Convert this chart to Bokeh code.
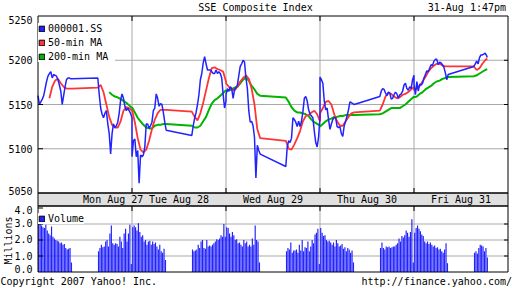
from math import pi
from bokeh.plotting import figure
from bokeh.models import Range1d, Legend, LegendItem
from bokeh.core.properties import value
from bokeh.embed import file_html
from bokeh.resources import INLINE

# ---------------- texts ----------------
TITLE = "SSE Composite Index"
STAMP = "31-Aug 1:47pm"
NAMES = ["000001.SS", "50-min MA", "200-min MA"]
VOL_NAME = "Volume"
DAYS = ["Mon Aug 27", "Tue Aug 28", "Wed Aug 29", "Thu Aug 30", "Fri Aug 31"]
PRICE_TICKS = [5050, 5100, 5150, 5200, 5250]
VOL_TICKS = [0, 1, 2, 3, 4]
VOL_TICK_LABELS = ["0.0", "1.0", "2.0", "3.0", "4.0"]
LEFT_NOTE = "Copyright 2007 Yahoo! Inc."
RIGHT_NOTE = "http://finance.yahoo.com/"
VOL_UNIT = "Millions"

# ---------------- price, 5-minute samples (minutes after 9:30 / after 13:00) ----------------
mon_am = [5160, 5150, 5153, 5156, 5160, 5168, 5176, 5182, 5185, 5187, 5180, 5184, 5183, 5182, 5178,
          5172, 5165, 5150, 5160, 5170, 5178, 5180, 5180, 5179, 5179]
mon_pm = [5180, 5161, 5146, 5139, 5135, 5140, 5143, 5128, 5117, 5094, 5117, 5128, 5124, 5126, 5130,
          5140, 5155, 5162, 5157, 5148, 5143, 5146, 5143, 5140, 5135]
tue_am = [5091, 5109, 5111, 5091, 5098, 5061, 5093, 5091, 5093, 5102, 5128, 5128, 5123, 5126, 5130,
          5143, 5146, 5162, 5157, 5148, 5151, 5150, 5141, 5130, 5121]
tue_pm = [5115, 5126, 5135, 5141, 5150, 5161, 5178, 5185, 5197, 5204, 5196, 5189, 5189, 5189, 5187,
          5185, 5185, 5189, 5185, 5187, 5185, 5180, 5161, 5146, 5154]
wed_am = [5161, 5168, 5165, 5170, 5168, 5157, 5167, 5169, 5172, 5183, 5193, 5196, 5200, 5198, 5180,
          5168, 5143, 5130, 5131, 5126, 5113, 5067, 5104, 5098, 5094]
wed_pm = [5080, 5102, 5109, 5107, 5112, 5135, 5133, 5130, 5125, 5131, 5125, 5131, 5142, 5157, 5159,
          5154, 5144, 5139, 5137, 5135, 5120, 5107, 5102, 5113, 5135]
thu_am = [5181, 5178, 5174, 5154, 5144, 5146, 5133, 5122, 5128, 5133, 5135, 5135, 5125, 5124, 5125,
          5117, 5114, 5126, 5131, 5137, 5144, 5153, 5152, 5151, 5150]
thu_pm = [5159, 5165, 5168, 5167, 5163, 5160, 5164, 5163, 5156, 5157, 5161, 5164, 5162, 5157, 5161,
          5162, 5165, 5172, 5174, 5168, 5166, 5170, 5168, 5178, 5183]
fri_am = [5173, 5161, 5176, 5165, 5173, 5172, 5174, 5180, 5184, 5188, 5187, 5191, 5195, 5194, 5199,
          5201, 5201, 5195, 5198, 5197, 5195, 5192, 5186, 5178, 5184]
fri_pm = [5193, 5196, 5199, 5196, 5203, 5206, 5206, 5207, 5208, 5205, 5203]

# ---------------- 50-min MA, 10-minute samples ----------------
mon_ma50_am = [5157, 5170, 5177, 5179, 5174, 5170, 5168, 5168, 5168]          # from 10:10
mon_ma50_pm = [5169, 5172, 5164, 5150, 5136, 5127, 5124, 5124, 5131, 5143, 5147, 5146, 5143]
tue_ma50_am = [5144, 5130, 5112, 5099, 5096, 5099, 5109, 5122, 5133, 5140, 5144, 5144, 5144]
tue_ma50_pm = [5142, 5136, 5132, 5140, 5152, 5166, 5180, 5191, 5192, 5190, 5189, 5187, 5176]
wed_ma50_am = [5174, 5170, 5167, 5166, 5170, 5176, 5180, 5183, 5179, 5168, 5150, 5122, 5112]
wed_ma50_pm = [5109, 5100, 5099, 5105, 5112, 5120, 5131, 5137, 5138, 5141, 5143, 5139, 5131]
thu_ma50_am = [5140, 5146, 5153, 5154, 5150, 5139, 5131, 5126, 5126, 5131, 5136, 5140, 5141]
thu_ma50_pm = [5143, 5150, 5159, 5163, 5162, 5159, 5157, 5158, 5161, 5162, 5164, 5167, 5170]
fri_ma50_am = [5166, 5168, 5171, 5176, 5181, 5187, 5191, 5194, 5196, 5196, 5194, 5193, 5193]
fri_ma50_pm = [5193, 5189, 5191, 5196, 5200, 5202]

# ---------------- 200-min MA, 10-minute samples ----------------
mon_ma200_pm = [5164, 5161, 5159, 5158, 5156, 5154, 5152, 5149, 5146]          # from 13:40
tue_ma200_am = [5147, 5141, 5135, 5131, 5127, 5124, 5123, 5123, 5126, 5127, 5127, 5128, 5128]
tue_ma200_pm = [5126, 5124, 5124, 5126, 5131, 5136, 5144, 5151, 5155, 5157, 5160, 5163, 5166]
wed_ma200_am = [5165, 5166, 5167, 5169, 5170, 5174, 5178, 5180, 5177, 5171, 5167, 5162, 5160]
wed_ma200_pm = [5158, 5153, 5147, 5143, 5141, 5141, 5140, 5139, 5137, 5133, 5130, 5128, 5126]
thu_ma200_am = [5125, 5128, 5131, 5133, 5134, 5136, 5136, 5137, 5137, 5138, 5138, 5138, 5138]
thu_ma200_pm = [5139, 5140, 5142, 5144, 5146, 5146, 5146, 5146, 5148, 5150, 5153, 5156, 5159]
fri_ma200_am = [5158, 5159, 5162, 5164, 5167, 5169, 5171, 5174, 5176, 5177, 5179, 5180, 5181]
fri_ma200_pm = [5182, 5183, 5185, 5187, 5189, 5190]

# ---------------- volume (millions), 5-minute bars ----------------
mon_vol_am = [3.1, 3.0, 2.9, 2.8, 2.75, 2.95, 2.6, 2.4, 2.3, 2.85, 2.2, 2.1, 2.0, 1.95, 1.9, 1.8,
              1.85, 1.7, 1.75, 1.5, 1.4, 1.45, 1.5, 0.6]
mon_vol_pm = [1.3, 1.5, 1.7, 1.55, 1.6, 1.9, 2.0, 1.6, 2.4, 2.9, 1.8, 1.7, 1.8, 1.75, 1.6, 2.2,
              1.9, 1.5, 2.4, 2.7, 1.9, 2.4, 2.95, 0.5]
tue_vol_am = [2.8, 2.9, 2.8, 2.6, 3.05, 2.5, 2.2, 2.3, 1.9, 2.0, 1.7, 1.9, 1.95, 1.7, 1.9, 1.75,
              1.85, 1.6, 1.4, 1.7, 1.3, 1.2, 1.45, 0.75]
tue_vol_pm = [1.4, 1.3, 1.35, 1.4, 1.7, 1.5, 1.9, 2.0, 1.5, 1.45, 2.0, 1.6, 1.65, 1.6, 1.7, 1.8,
              1.9, 2.05, 2.0, 2.1, 2.3, 2.2, 3.0, 2.2]
wed_vol_am = [2.8, 2.75, 2.4, 2.2, 2.5, 2.3, 2.0, 2.05, 1.8, 1.85, 1.7, 1.6, 2.0, 1.8, 1.9, 1.6,
              1.7, 1.6, 2.1, 1.7, 2.9, 2.0, 1.9, 0.6]
wed_vol_pm = [1.3, 1.5, 1.4, 1.85, 1.2, 1.35, 1.35, 1.4, 1.2, 1.7, 1.35, 2.0, 1.3, 1.55, 1.5, 1.9,
              1.3, 1.6, 2.0, 1.8, 2.35, 2.45, 2.7, 0.5]
thu_vol_am = [2.75, 2.45, 2.25, 2.3, 2.0, 1.9, 1.95, 1.85, 1.7, 1.85, 1.6, 2.0, 1.8, 1.6, 1.65, 1.75,
              1.45, 1.55, 1.3, 1.5, 1.4, 1.2, 1.35, 0.6]
thu_vol_pm = [1.5, 1.85, 1.5, 1.4, 1.6, 1.55, 1.6, 1.5, 1.55, 1.6, 1.6, 1.7, 1.8, 2.1, 1.9, 2.25,
              2.15, 2.3, 2.6, 2.45, 2.2, 2.5, 3.3, 0.6]
fri_vol_am = [2.45, 2.75, 2.9, 2.7, 2.55, 2.35, 2.25, 1.9, 1.8, 1.9, 1.75, 1.85, 1.7, 1.6, 1.65, 1.5,
              1.55, 1.4, 1.45, 1.3, 1.2, 1.4, 1.8, 0.55]
fri_vol_pm = [1.2, 1.3, 1.15, 1.5, 1.7, 1.65, 1.6, 1.3, 1.5, 0.9]

# ---------------- trading-time structure ----------------
DAY_LEN = 330          # 9:30 .. 15:00 in minutes
PM_OFFSET = 210        # 13:00 - 9:30
LAST_MIN = 47          # 13:47
M5 = list(range(0, 121, 5))
M10 = list(range(0, 121, 10))
M10_LATE = list(range(40, 121, 10))
FRI_M5 = list(range(0, 46, 5)) + [LAST_MIN]
FRI_M10 = [0, 10, 20, 30, 40, LAST_MIN]
BARS = [m + 2.5 for m in range(0, 120, 5)]
FRI_BARS = [m + 2.5 for m in range(0, 50, 5)]


def tx(day, minute, pm):
    return day + (minute + (PM_OFFSET if pm else 0)) / DAY_LEN


def build(sessions):
    xs, ys = [], []
    for day, pm, mins, vals in sessions:
        for m, v in zip(mins, vals):
            xs.append(tx(day, m, pm))
            ys.append(v)
    return xs, ys


px_x, px_y = build([(0, 0, M5, mon_am), (0, 1, M5, mon_pm), (1, 0, M5, tue_am), (1, 1, M5, tue_pm),
                    (2, 0, M5, wed_am), (2, 1, M5, wed_pm), (3, 0, M5, thu_am), (3, 1, M5, thu_pm),
                    (4, 0, M5, fri_am), (4, 1, FRI_M5, fri_pm)])
m50_x, m50_y = build([(0, 0, M10_LATE, mon_ma50_am), (0, 1, M10, mon_ma50_pm),
                      (1, 0, M10, tue_ma50_am), (1, 1, M10, tue_ma50_pm),
                      (2, 0, M10, wed_ma50_am), (2, 1, M10, wed_ma50_pm),
                      (3, 0, M10, thu_ma50_am), (3, 1, M10, thu_ma50_pm),
                      (4, 0, M10, fri_ma50_am), (4, 1, FRI_M10, fri_ma50_pm)])
m200_x, m200_y = build([(0, 1, M10_LATE, mon_ma200_pm),
                        (1, 0, M10, tue_ma200_am), (1, 1, M10, tue_ma200_pm),
                        (2, 0, M10, wed_ma200_am), (2, 1, M10, wed_ma200_pm),
                        (3, 0, M10, thu_ma200_am), (3, 1, M10, thu_ma200_pm),
                        (4, 0, M10, fri_ma200_am), (4, 1, FRI_M10, fri_ma200_pm)])
vol_x, vol_y = build([(0, 0, BARS, mon_vol_am), (0, 1, BARS, mon_vol_pm),
                      (1, 0, BARS, tue_vol_am), (1, 1, BARS, tue_vol_pm),
                      (2, 0, BARS, wed_vol_am), (2, 1, BARS, wed_vol_pm),
                      (3, 0, BARS, thu_vol_am), (3, 1, BARS, thu_vol_pm),
                      (4, 0, BARS, fri_vol_am), (4, 1, FRI_BARS, fri_vol_pm)])

# ---------------- page geometry (pixels) ----------------
W, H = 512, 288
XL = 37.5            # x of day 0 (frame left line)
DAY_PX = 94.0        # pixels per trading day
YT = 15.5            # y of price 5250 (frame top line)
PX = 177.0 / 200.0   # pixels per index point
YV0 = 271.5          # y of volume 0 (bottom line)
VPX = 16.0           # pixels per million shares
YBAND = 205.5        # bottom line of the date band
NDAYS = len(DAYS)
P_TOP, P_BOT = PRICE_TICKS[-1], PRICE_TICKS[0]


def X(px):
    return (px - XL) / DAY_PX


def P(py):
    return P_TOP - (py - YT) / PX


def V(py):
    return (YV0 - py) / VPX


BAND_V = V(YBAND)
LABEL_X = [0.8, 1.5, 2.5, 3.5, 4.5]

FONT = "DejaVu Sans Mono"
FS = "10px"
BLUE, RED, GREEN = "#2222ff", "#ff3434", "#00b400"
GRID = "#a9a9a9"
BAND = "#e0e0e0"

p = figure(width=W, height=H, x_range=Range1d(X(0), X(W)), y_range=Range1d(P(H), P(0)),
           x_axis_type=None, y_axis_type=None, output_backend="svg", toolbar_location=None,
           min_border=0, background_fill_color="white", border_fill_color="white",
           outline_line_color=None)
p.title.visible = False
p.extra_y_ranges = {"vol": Range1d(V(H), V(0))}

days_in = list(range(1, NDAYS))

# grid
p.segment(x0=[0] * 3, x1=[NDAYS] * 3, y0=PRICE_TICKS[1:4], y1=PRICE_TICKS[1:4], line_color=GRID)
p.segment(x0=[0] * 3, x1=[NDAYS] * 3, y0=VOL_TICKS[1:4], y1=VOL_TICKS[1:4], line_color=GRID,
          y_range_name="vol")
p.segment(x0=days_in, x1=days_in, y0=[P_BOT] * 4, y1=[P_TOP] * 4, line_color=GRID)
p.segment(x0=days_in, x1=days_in, y0=[0] * 4, y1=[BAND_V] * 4, line_color=GRID, y_range_name="vol")

# date band
p.quad(left=[0], right=[NDAYS], bottom=[P(YBAND)], top=[P_BOT], fill_color=BAND, line_color=None)

# volume bars
p.vbar(x=vol_x, top=vol_y, bottom=0, width=5 / DAY_LEN * 0.82, y_range_name="vol",
       fill_color=BLUE, line_color=None)

# price lines
p.line(m200_x, m200_y, line_color=GREEN, line_width=2)
p.line(m50_x, m50_y, line_color=RED, line_width=1.8)
p.line(px_x, px_y, line_color=BLUE, line_width=1.5)

# frames
p.quad(left=[0], right=[NDAYS], bottom=[P_BOT], top=[P_TOP], fill_color=None, line_color="black")
p.quad(left=[0], right=[NDAYS], bottom=[P(YBAND)], top=[P_BOT], fill_color=None, line_color="black")
p.quad(left=[0], right=[NDAYS], bottom=[0], top=[BAND_V], fill_color=None, line_color="black",
       y_range_name="vol")

# tick marks (inward)
tin = 5 / DAY_PX
rin = 4 / DAY_PX
vt = 5 / PX
p.segment(x0=[0] * 3, x1=[tin] * 3, y0=PRICE_TICKS[1:4], y1=PRICE_TICKS[1:4], line_color="black")
p.segment(x0=[NDAYS - rin] * 3, x1=[NDAYS] * 3, y0=PRICE_TICKS[1:4], y1=PRICE_TICKS[1:4],
          line_color="black")
p.segment(x0=[0] * 4, x1=[tin] * 4, y0=VOL_TICKS[1:], y1=VOL_TICKS[1:], line_color="black",
          y_range_name="vol")
p.segment(x0=[NDAYS - rin] * 3, x1=[NDAYS] * 3, y0=VOL_TICKS[1:4], y1=VOL_TICKS[1:4],
          line_color="black", y_range_name="vol")
p.segment(x0=days_in, x1=days_in, y0=[P_TOP] * 4, y1=[P_TOP - vt] * 4, line_color="black")
p.segment(x0=days_in, x1=days_in, y0=[P_BOT] * 4, y1=[P_BOT + vt] * 4, line_color="black")
p.segment(x0=days_in, x1=days_in, y0=[P(YBAND)] * 4, y1=[P(YBAND) - vt] * 4, line_color="black")

txt = dict(text_font=value(FONT), text_font_size=FS, text_color="black", text_baseline="middle")

# axis labels
p.text(x=[X(32)] * 5, y=PRICE_TICKS, text=[str(t) for t in PRICE_TICKS], text_align="right",
       y_offset=[-2, 0, 0, 0, 4], **txt)
p.text(x=[X(32)] * 5, y=VOL_TICKS, text=VOL_TICK_LABELS, text_align="right",
       y_offset=[-3, 0, -1, -1, 2], y_range_name="vol", **txt)
p.text(x=[X(8)], y=[V(240)], text=[VOL_UNIT], text_align="center", angle=pi / 2,
       y_range_name="vol", **txt)

# day labels
p.text(x=LABEL_X, y=[(P_BOT + P(YBAND)) / 2] * NDAYS, text=DAYS, text_align="center", **txt)

# header / footer
p.text(x=[X(255)], y=[P(7)], text=[TITLE], text_align="center", **txt)
p.text(x=[X(505.5)], y=[P(7)], text=[STAMP], text_align="right", **txt)
p.text(x=[X(0)], y=[P(281)], text=[LEFT_NOTE], text_align="left", **txt)
p.text(x=[X(511.5)], y=[P(281)], text=[RIGHT_NOTE], text_align="right", **txt)

# legends with square swatches (swatch carriers sit outside the visible range)
off = X(-50)
sw = [p.quad(left=[off], right=[off], bottom=[P_BOT], top=[P_BOT], fill_color=c, line_color="black")
      for c in (BLUE, RED, GREEN, BLUE)]
common = dict(orientation="vertical", padding=3, margin=0, spacing=3, glyph_width=7, glyph_height=7,
              label_height=10, label_standoff=3, label_text_font=FONT, label_text_font_size=FS,
              label_text_color="black", background_fill_color="white", background_fill_alpha=1,
              border_line_color=None)
leg1 = Legend(items=[LegendItem(label=n, renderers=[r]) for n, r in zip(NAMES, sw[:3])],
              location=(38, H - 62), label_width=67, **common)
leg2 = Legend(items=[LegendItem(label=VOL_NAME, renderers=[sw[3]])],
              location=(38, H - 224), label_width=36, **common)
p.add_layout(leg1)
p.add_layout(leg2)

open("out.html", "w").write(file_html(p, INLINE))
